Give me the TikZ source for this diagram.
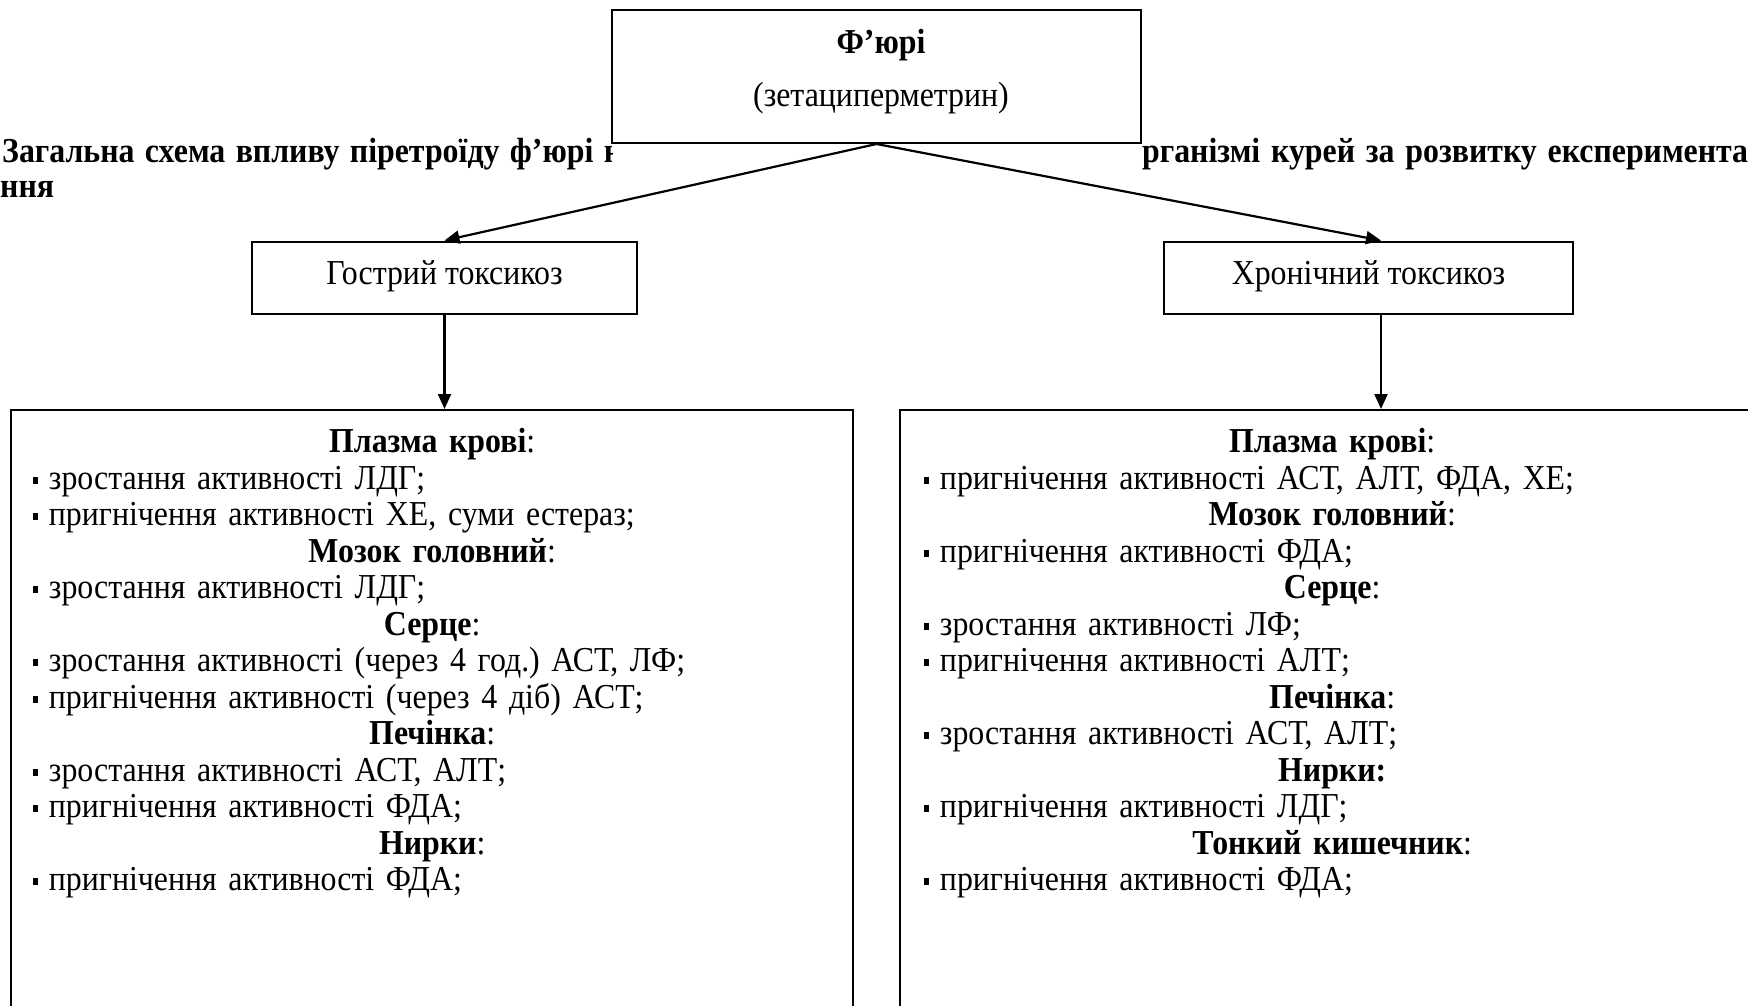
\documentclass[tikz,border=0pt]{standalone}
\usepackage{fontspec}
\setmainfont[FakeStretch=0.91]{Liberation Serif}
\usetikzlibrary{arrows.meta}
\frenchspacing
\newcommand{\bul}{\raisebox{0.16em}{\rule{0.15em}{0.21em}}\hspace{0.3em}}
\newcommand{\hd}[1]{\centering #1\par}
\newcommand{\li}[1]{\raggedright\bul #1\par}
\begin{document}
\begin{tikzpicture}[x=1pt,y=-1pt,
  box/.style={draw,line width=2pt,fill=white,inner sep=0pt},
  arr/.style={line width=2.2pt,-{Triangle[length=15pt,width=13pt]}},
  txt/.style={inner sep=0pt,font=\fontsize{35}{36.5}\selectfont},
  btxt/.style={inner sep=0pt,font=\fontsize{35}{36.5}\selectfont\bfseries},
  list/.style={inner sep=0pt,anchor=north west,font=\fontsize{35}{36.5}\selectfont\frenchspacing,
    execute at begin node={\setlength{\parindent}{0pt}\setlength{\parskip}{0pt}}},
]
\useasboundingbox (0,0) rectangle (1748,1006);
\clip (0,0) rectangle (1748,1006);
% caption, partly hidden by the top box
\begin{scope}
\clip (0,100) rectangle (612,230);
\node[btxt,anchor=base west] (cap1) at (2,163) {\makebox[636pt][s]{Загальна схема впливу піретроїду ф’юрі на}};
\end{scope}
\begin{scope}
\clip (1141,100) rectangle (1748,230);
\node[btxt,anchor=base west] (cap2) at (1126,163) {\makebox[622pt][s]{організмі курей за розвитку експеримента}};
\end{scope}
\node[btxt,anchor=base west] (cap3) at (0,197) {ння};
% top box
\node[box,minimum width=529pt,minimum height=133pt] (fury) at (876.5,76.5) {};
\node[btxt,anchor=base] (furyname) at (881,54) {Ф’юрі};
\node[txt,anchor=base] (furysub) at (881,107) {(зетациперметрин)};
% middle boxes
\node[box,minimum width=385pt,minimum height=72pt] (acute) at (444.5,277.5) {};
\node[txt,anchor=base] (acutel) at (acute.center |- 0,284) {Гострий токсикоз};
\node[box,minimum width=409pt,minimum height=72pt] (chronic) at (1368.5,277.5) {};
\node[txt,anchor=base] (chronicl) at (chronic.center |- 0,284) {Хронічний токсикоз};
% big boxes
\node[box,minimum width=842pt,minimum height=620pt] (lbig) at (432,720) {};
\node[box,minimum width=864pt,minimum height=620pt] (rbig) at (1332,720) {};
% arrows
\coordinate (ctop) at ([xshift=12.5pt]chronic.north);
\coordinate (cbot) at ([xshift=12.5pt]chronic.south);
\draw[arr] (fury.south) -- (acute.north);
\draw[arr] (fury.south) -- (ctop);
\draw[arr] (acute.south) -- (acute.south |- lbig.north);
\draw[arr] (cbot) -- (cbot |- rbig.north);
% left list
\node[list,text width=798pt] (ltext) at (33,428.5) {%
\hd{\textbf{Плазма крові}:}
\li{зростання активності ЛДГ;}
\li{пригнічення активності ХЕ, суми естераз;}
\hd{\textbf{Мозок головний}:}
\li{зростання активності ЛДГ;}
\hd{\textbf{Серце}:}
\li{зростання активності (через 4 год.) АСТ, ЛФ;}
\li{пригнічення активності (через 4 діб) АСТ;}
\hd{\textbf{Печінка}:}
\li{зростання активності АСТ, АЛТ;}
\li{пригнічення активності ФДА;}
\hd{\textbf{Нирки}:}
\li{пригнічення активності ФДА;}};
% right list
\node[list,text width=816pt] (rtext) at (924,428.5) {%
\hd{\textbf{Плазма крові}:}
\li{пригнічення активності АСТ, АЛТ, ФДА, ХЕ;}
\hd{\textbf{Мозок головний}:}
\li{пригнічення активності ФДА;}
\hd{\textbf{Серце}:}
\li{зростання активності ЛФ;}
\li{пригнічення активності АЛТ;}
\hd{\textbf{Печінка}:}
\li{зростання активності АСТ, АЛТ;}
\hd{\textbf{Нирки:}}
\li{пригнічення активності ЛДГ;}
\hd{\textbf{Тонкий кишечник}:}
\li{пригнічення активності ФДА;}};
\end{tikzpicture}
\end{document}
